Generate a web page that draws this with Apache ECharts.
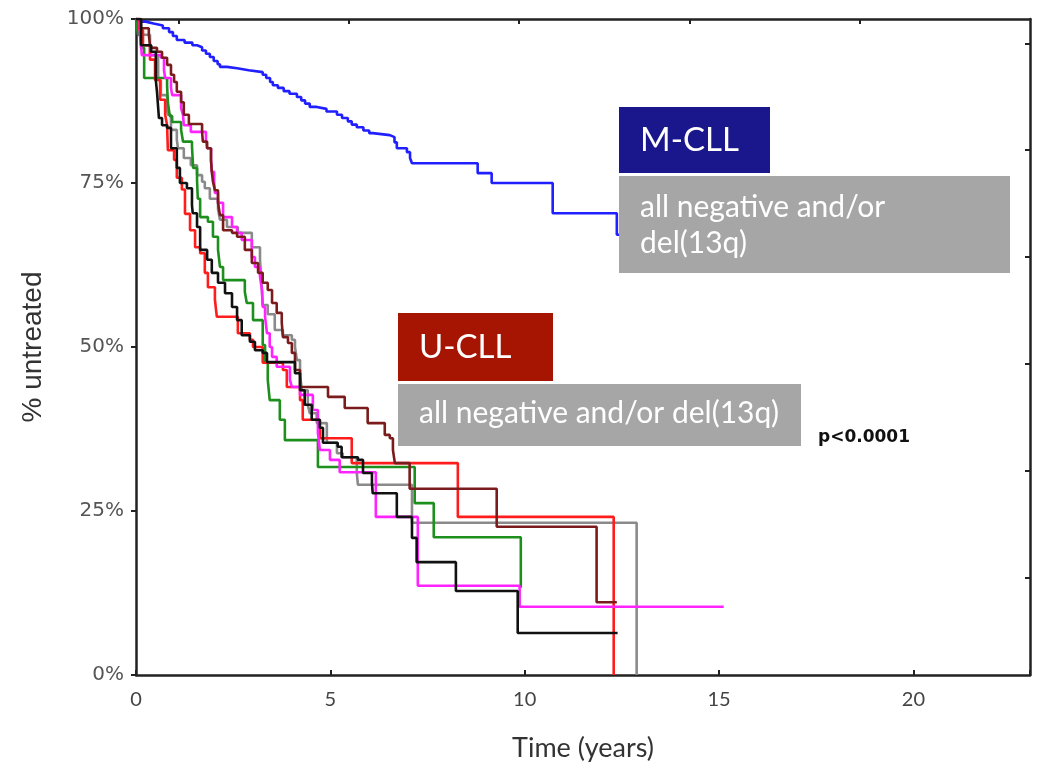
<!DOCTYPE html>
<html>
<head>
<meta charset="utf-8">
<title>Time to first treatment</title>
<script src="https://cdn.jsdelivr.net/npm/echarts@6/dist/echarts.min.js"></script>
<style>
  html, body { margin: 0; padding: 0; background: #fff; }
  #main { width: 1040px; height: 767px; }
</style>
</head>
<body>
<div id="main"></div>
<script>
// kaplan-meier steps, [years, % untreated] after each drop
const mcll = [[0,100],[0.05,99.6],[0.25,99.3],[0.45,99.0],[0.69,98.6],[0.85,98.0],[0.95,97.4],[1.05,96.8],[1.25,96.4],[1.45,96.0],[1.57,95.7],[1.70,95.2],[1.80,94.7],[1.90,94.2],[2.00,93.6],[2.10,93.1],[2.16,92.7],[2.34,92.5],[2.60,92.2],[2.90,91.9],[3.26,91.5],[3.35,91.0],[3.45,90.4],[3.52,89.9],[3.65,89.5],[3.80,89.0],[3.95,88.6],[4.14,88.1],[4.25,87.6],[4.35,87.1],[4.47,86.6],[4.65,86.3],[4.90,85.9],[5.17,85.4],[5.30,84.9],[5.45,84.4],[5.55,83.9],[5.68,83.5],[5.85,83.0],[6.00,82.6],[6.09,82.3],[6.53,82.0],[6.65,81.2],[6.71,80.3],[6.97,79.7],[7.05,78.8],[7.10,78.0],[8.79,76.5],[9.15,75.0],[10.72,70.4],[12.37,67.1],[12.44,67.1]]

const uRed = [[0,100],[0.08,98.3],[0.18,96.0],[0.36,93.8],[0.49,90.7],[0.62,87.7],[0.75,85.4],[0.80,83.8],[0.82,80.0],[0.98,78.5],[1.05,75.8],[1.18,74.0],[1.26,70.3],[1.39,67.8],[1.52,65.2],[1.65,64.3],[1.77,61.3],[1.85,59.1],[2.03,57.2],[2.08,54.6],[2.62,52.1],[2.93,51.1],[3.01,50.0],[3.26,47.6],[3.78,46.5],[3.88,43.9],[4.22,41.9],[4.29,38.9],[4.73,36.1],[5.55,32.3],[8.28,24.1],[12.29,0]]

const uBlack = [[0,100],[0.13,96.0],[0.39,95.0],[0.51,90.7],[0.54,88.9],[0.59,84.9],[0.67,83.8],[0.80,83.4],[0.90,80.3],[1.05,77.3],[1.13,75.0],[1.31,74.2],[1.44,71.6],[1.46,70.4],[1.57,68.3],[1.65,64.8],[1.83,63.3],[1.95,61.3],[2.11,59.8],[2.29,58.2],[2.47,56.1],[2.60,54.1],[2.72,51.8],[2.93,50.8],[3.06,49.5],[3.26,49.1],[3.37,47.7],[4.09,46.0],[4.22,43.4],[4.34,41.2],[4.52,38.9],[4.73,37.7],[4.81,35.4],[5.19,34.8],[5.29,33.2],[5.71,32.8],[5.84,30.8],[6.07,29.3],[6.09,27.7],[6.71,24.1],[7.10,20.9],[7.22,17.2],[8.23,12.8],[9.82,6.4],[12.39,6.4]]

const uGreen = [[0,100],[0.05,97.6],[0.13,95.6],[0.21,91.0],[0.80,89.8],[0.82,87.3],[0.87,85.2],[0.93,84.3],[1.16,83.1],[1.21,81.3],[1.44,80.6],[1.47,77.3],[1.57,75.5],[1.59,72.6],[1.65,69.8],[1.85,69.1],[1.98,66.8],[2.11,64.8],[2.16,62.2],[2.24,60.2],[2.80,58.4],[2.85,56.7],[3.01,54.1],[3.26,50.3],[3.32,47.6],[3.39,45.0],[3.44,41.9],[3.70,38.9],[3.83,35.8],[4.68,31.7],[7.17,26.2],[7.66,21.0],[9.90,13.3]]

const uMagenta = [[0,100],[0.10,97.6],[0.13,96.0],[0.15,94.5],[0.64,94.1],[0.72,92.2],[0.75,91.0],[0.90,89.5],[0.93,88.4],[1.16,86.4],[1.21,85.4],[1.23,83.8],[1.41,82.8],[1.80,81.6],[1.83,80.3],[1.93,78.5],[1.95,76.7],[2.01,75.2],[2.03,73.5],[2.11,72.0],[2.24,69.8],[2.47,68.3],[2.60,67.4],[2.72,66.3],[2.98,63.7],[3.06,62.2],[3.19,60.7],[3.24,58.7],[3.26,56.1],[3.32,54.6],[3.37,52.1],[3.44,50.0],[3.50,48.5],[3.62,47.0],[3.96,45.0],[4.01,43.9],[4.22,42.7],[4.55,40.4],[4.68,36.9],[4.73,34.3],[4.99,32.8],[5.24,30.9],[6.17,24.1],[7.25,13.6],[9.87,10.4],[15.12,10.4]]

const uGrey = [[0,100],[0.10,99.1],[0.13,97.6],[0.36,94.5],[0.57,90.7],[0.64,88.4],[0.80,86.1],[0.82,85.4],[0.90,83.1],[1.05,81.6],[1.08,80.3],[1.23,78.8],[1.41,77.7],[1.57,76.2],[1.70,75.2],[1.77,74.2],[1.90,72.6],[2.11,71.0],[2.16,69.4],[2.34,68.3],[2.62,67.4],[2.98,65.2],[3.19,63.3],[3.24,58.7],[3.26,56.4],[3.39,55.0],[3.57,52.6],[3.78,51.8],[4.01,51.1],[4.09,50.0],[4.14,48.0],[4.22,45.7],[4.27,43.4],[4.42,41.2],[4.47,39.9],[4.65,38.4],[4.91,35.4],[5.17,33.8],[5.32,33.2],[5.68,30.8],[5.71,29.0],[7.10,23.2],[12.88,0]]

const uDarkred = [[0,100],[0.13,98.6],[0.33,97.6],[0.36,96.0],[0.41,95.6],[0.54,95.0],[0.67,94.1],[0.80,93.0],[0.90,91.5],[0.98,90.4],[1.05,88.9],[1.16,87.3],[1.23,85.4],[1.36,84.0],[1.70,82.8],[1.72,81.3],[1.83,80.3],[1.93,78.5],[1.95,76.7],[1.98,75.2],[2.03,73.9],[2.11,72.0],[2.16,70.1],[2.24,67.8],[2.47,67.4],[2.60,66.8],[2.80,64.8],[2.98,62.8],[3.14,61.3],[3.26,59.8],[3.39,58.7],[3.50,56.7],[3.62,55.2],[3.75,53.7],[3.78,51.5],[3.91,50.6],[4.01,49.1],[4.09,46.5],[4.22,43.9],[4.94,42.4],[5.37,40.7],[5.96,38.4],[6.40,36.6],[6.53,36.1],[6.61,34.3],[6.66,32.3],[7.04,28.4],[9.28,22.6],[11.85,11.1],[12.37,11.1]]

// frame ticks on top/right edges (not aligned with the bottom/left scale)
const topTicks = [1.105, 5.476, 9.846, 14.24, 18.61]
const rightTicks = [96.3, 80.0, 63.7, 47.4, 31.1, 14.8]

const chart = echarts.init(document.getElementById('main'))

function km(name, data, color) {
  return {
    name: name,
    type: 'line',
    step: 'end',
    data: data,
    showSymbol: false,
    symbol: 'none',
    animation: false,
    lineStyle: { color: color, width: 2.6 }
  }
}

chart.setOption({
  animation: false,
  grid: { left: 136, right: 10, top: 19, bottom: 92, outerBoundsMode: 'none', containLabel: false },
  xAxis: [{
    type: 'value', min: 0, max: 23, interval: 5,
    name: 'Time (years)', nameLocation: 'middle', nameGap: 60,
    nameTextStyle: { fontFamily: 'Lato', fontSize: 27, color: '#333' },
    axisLine: { lineStyle: { color: '#222', width: 2.5 } },
    axisTick: { inside: true, length: 5, lineStyle: { color: '#222', width: 2 } },
    axisLabel: {
      margin: 15, fontFamily: 'Lato', fontSize: 20, color: '#444',
      formatter: v => (v % 5 === 0 ? String(v) : '')
    },
    splitLine: { show: false }
  }, {
    type: 'value', position: 'top', min: 0, max: 23,
    axisLine: { show: true, onZero: false, lineStyle: { color: '#222', width: 2.5 } },
    axisTick: { show: true, inside: true, length: 5, customValues: topTicks, lineStyle: { color: '#222', width: 2 } },
    axisLabel: { show: false },
    splitLine: { show: false }
  }],
  yAxis: [{
    type: 'value', min: 0, max: 100, interval: 25,
    name: '% untreated', nameLocation: 'middle', nameGap: 89,
    nameTextStyle: { fontFamily: 'Liberation Sans', fontSize: 28, color: '#333' },
    axisLine: { show: true, lineStyle: { color: '#222', width: 2.5 } },
    axisTick: { show: true, length: 5, lineStyle: { color: '#222', width: 2 } },
    axisLabel: { margin: 12, fontFamily: 'DejaVu Sans', fontSize: 20, color: '#555', formatter: '{value}%' },
    splitLine: { show: false }
  }, {
    type: 'value', position: 'right', min: 0, max: 100,
    axisLine: { show: true, onZero: false, lineStyle: { color: '#222', width: 2.5 } },
    axisTick: { show: true, inside: true, length: 5, customValues: rightTicks, lineStyle: { color: '#222', width: 2 } },
    axisLabel: { show: false },
    splitLine: { show: false }
  }],
  series: [
    km('M-CLL', mcll, '#1f1fff'),
    km('U-CLL grey', uGrey, '#8a8a8a'),
    km('U-CLL green', uGreen, '#1d8f1d'),
    km('U-CLL red', uRed, '#ff1c1c'),
    km('U-CLL magenta', uMagenta, '#ff24ff'),
    km('U-CLL darkred', uDarkred, '#7a1c1c'),
    km('U-CLL black', uBlack, '#111111')
  ],
  graphic: [
    { type: 'rect', z: 100, shape: { x: 619, y: 107, width: 151, height: 66 }, style: { fill: '#1a168c' } },
    { type: 'text', z: 101, x: 640, y: 140, style: { text: 'M-CLL', fill: '#fff', font: '33px Lato', verticalAlign: 'middle' } },
    { type: 'rect', z: 100, shape: { x: 619, y: 176, width: 391, height: 97 }, style: { fill: '#a6a6a6' } },
    { type: 'text', z: 101, x: 640, y: 207, style: { text: 'all negative and/or', fill: '#fff', font: '30px Lato', verticalAlign: 'middle' } },
    { type: 'text', z: 101, x: 640, y: 243, style: { text: 'del(13q)', fill: '#fff', font: '30px Lato', verticalAlign: 'middle' } },
    { type: 'rect', z: 100, shape: { x: 398, y: 313, width: 155, height: 68 }, style: { fill: '#a51502' } },
    { type: 'text', z: 101, x: 419, y: 347, style: { text: 'U-CLL', fill: '#fff', font: '33px Lato', verticalAlign: 'middle' } },
    { type: 'rect', z: 100, shape: { x: 398, y: 384, width: 403, height: 62 }, style: { fill: '#a6a6a6' } },
    { type: 'text', z: 101, x: 419, y: 413, style: { text: 'all negative and/or del(13q)', fill: '#fff', font: '30px Lato', verticalAlign: 'middle' } },
    { type: 'text', z: 101, x: 818, y: 438, style: { text: 'p<0.0001', fill: '#111', font: 'bold 17px "DejaVu Sans"', verticalAlign: 'middle' } }
  ]
})
</script>
</body>
</html>
